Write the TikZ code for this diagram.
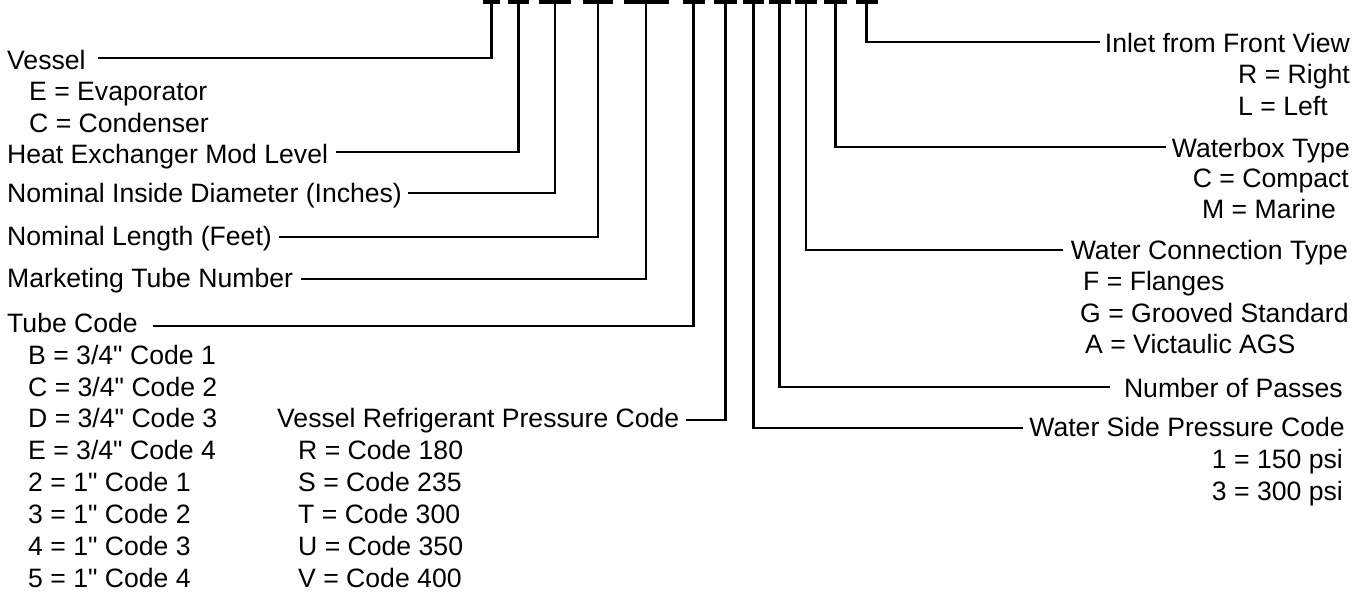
\documentclass[tikz,border=0pt]{standalone}
\usepackage{fontspec}
\newfontfamily\lab{Liberation Sans}
\usetikzlibrary{calc}
\begin{document}
\begin{tikzpicture}[x=1pt,y=-1pt,
  lbl/.style={font=\lab\fontsize{26.6}{32}\selectfont, inner sep=0pt, text=black},
  lw/.style={lbl, anchor=base west},
  le/.style={lbl, anchor=base east},
  bar/.style={fill=black, draw=none, inner sep=0pt, minimum height=4pt, anchor=north},
  conn/.style={draw=black, line width=2.5pt}]
\useasboundingbox (0,0) rectangle (1361,592);
% code bars
\node[bar, minimum width=17pt] (b1) at (491.5,0) {};
\node[bar, minimum width=21pt] (b2) at (518.5,0) {};
\node[bar, minimum width=32pt] (b3) at (555,0) {};
\node[bar, minimum width=30pt] (b4) at (598,0) {};
\node[bar, minimum width=45pt] (b5) at (646,0) {};
\node[bar, minimum width=22pt] (b6) at (693.5,0) {};
\node[bar, minimum width=23pt] (b7) at (725.5,0) {};
\node[bar, minimum width=21pt] (b8) at (753.5,0) {};
\node[bar, minimum width=22pt] (b9) at (779.5,0) {};
\node[bar, minimum width=22pt] (b10) at (806,0) {};
\node[bar, minimum width=23pt] (b11) at (835.5,0) {};
\node[bar, minimum width=22pt] (b12) at (866.5,0) {};
% left labels
\node[lw] (vessel) at (7,69) {Vessel};
\node[lw] (v1) at (29,100) {E = Evaporator};
\node[lw] (v2) at (29,132) {C = Condenser};
\node[lw] (hx) at (7,163) {Heat Exchanger Mod Level};
\node[lw] (nid) at (7,202) {Nominal Inside Diameter (Inches)};
\node[lw] (nl) at (7,245) {Nominal Length (Feet)};
\node[lw] (mtn) at (7,287) {Marketing Tube Number};
\node[lw] (tc) at (7,332) {Tube Code};
\node[lw] (t1) at (28,364) {B = 3/4" Code 1};
\node[lw] (t2) at (28,396) {C = 3/4" Code 2};
\node[lw] (t3) at (28,427) {D = 3/4" Code 3};
\node[lw] (t4) at (28,459) {E = 3/4" Code 4};
\node[lw] (t5) at (28,491) {2 = 1" Code 1};
\node[lw] (t6) at (28,523) {3 = 1" Code 2};
\node[lw] (t7) at (28,555) {4 = 1" Code 3};
\node[lw] (t8) at (28,587) {5 = 1" Code 4};
\node[lw] (vrp) at (277,427) {Vessel Refrigerant Pressure Code};
\node[lw] (r1) at (298,459) {R = Code 180};
\node[lw] (r2) at (298,491) {S = Code 235};
\node[lw] (r3) at (298,523) {T = Code 300};
\node[lw] (r4) at (298,555) {U = Code 350};
\node[lw] (r5) at (298,587) {V = Code 400};
% right labels
\node[le] (inlet) at (1350,52) {Inlet from Front View};
\node[lw] (i1) at (1238,83) {R = Right};
\node[lw] (i2) at (1238,115) {L = Left};
\node[le] (wbt) at (1350,157) {Waterbox Type};
\node[le] (w1) at (1349,187) {C = Compact};
\node[lw] (w2) at (1202,218) {M = Marine};
\node[le] (wct) at (1348,259) {Water Connection Type};
\node[lw] (c1) at (1083,290) {F = Flanges};
\node[lw] (c2) at (1080,322) {G = Grooved Standard};
\node[lw] (c3) at (1085,353) {A = Victaulic AGS};
\node[le] (nop) at (1343,397) {Number of Passes};
\node[le] (wsp) at (1345,436) {Water Side Pressure Code};
\node[le] (p1) at (1343,468) {1 = 150 psi};
\node[le] (p2) at (1343,500) {3 = 300 psi};
% connectors
\draw[conn] (b1.south) |- ($(vessel.base east)+(12,-11)$);
\draw[conn] (b2.south) |- ($(hx.base east)+(8,-11)$);
\draw[conn] (b3.south) |- ($(nid.base east)+(6,-9)$);
\draw[conn] (b4.south) |- ($(nl.base east)+(7,-8)$);
\draw[conn] (b5.south) |- ($(mtn.base east)+(8,-8)$);
\draw[conn] (b6.south) |- ($(tc.base east)+(15,-6)$);
\draw[conn] (b7.south) |- ($(vrp.base east)+(6,-7)$);
\draw[conn] (b8.south) |- ($(wsp.base west)+(-6,-8)$);
\draw[conn] (b9.south) |- ($(nop.base west)+(-14,-10)$);
\draw[conn] (b10.south) |- ($(wct.base west)+(-8,-9)$);
\draw[conn] (b11.south) |- ($(wbt.base west)+(-6,-10)$);
\draw[conn] (b12.south) |- ($(inlet.base west)+(-5,-10)$);
\end{tikzpicture}
\end{document}
